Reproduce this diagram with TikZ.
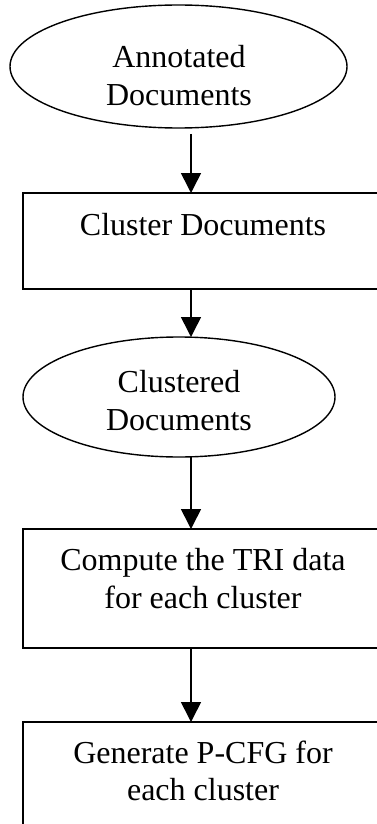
\documentclass[tikz,border=0pt]{standalone}
\usepackage{fontspec}
\setmainfont{Liberation Serif}
\usetikzlibrary{arrows.meta,shapes.geometric}

\begin{document}
\begin{tikzpicture}[x=1pt, y=-1pt,
  every node/.style={inner sep=0pt, outer sep=0pt},
  stage/.style={draw, line width=1.6pt, rectangle,
    minimum width=360pt, minimum height=#1},
  store/.style={draw, line width=1.4pt, ellipse},
  caption/.style={anchor=north, align=center,
    font=\fontsize{32}{37.5}\selectfont},
  flow/.style={line width=1.6pt,
    -{Triangle[length=20pt,width=20pt]}}
]
\useasboundingbox (0,0) rectangle (377,824);

% vertical line that all connectors follow
\coordinate (spine) at (191,0);

% data stores (ellipses) and processing steps (boxes)
\node[store, minimum width=337pt, minimum height=123pt] (e1) at (178.5,66.5) {};
\node[stage=96pt]  (b1) at (203,241) {};
\node[store, minimum width=312pt, minimum height=120pt] (e2) at (179,397) {};
\node[stage=119pt] (b2) at (203,588.5) {};
\node[stage=119pt] (b3) at (203,781.5) {};

% labels
\node[caption] (t1) at (179,45.5)  {Annotated\\Documents};
\node[caption] (t2) at (203,213.5) {Cluster Documents};
\node[caption] (t3) at (179,370.5) {Clustered\\Documents};
\node[caption] (t4) at (203,548.5) {Compute the TRI data\\for each cluster};
\node[caption] (t5) at (203,740.5) {Generate P-CFG for\\each cluster};

% connectors
\draw[flow] ([yshift=-6pt]e1.south -| spine) -- (b1.north -| spine);
\draw[flow] (b1.south -| spine) -- (e2.north -| spine);
\draw[flow] (e2.south -| spine) -- (b2.north -| spine);
\draw[flow] (b2.south -| spine) -- (b3.north -| spine);
\end{tikzpicture}
\end{document}
